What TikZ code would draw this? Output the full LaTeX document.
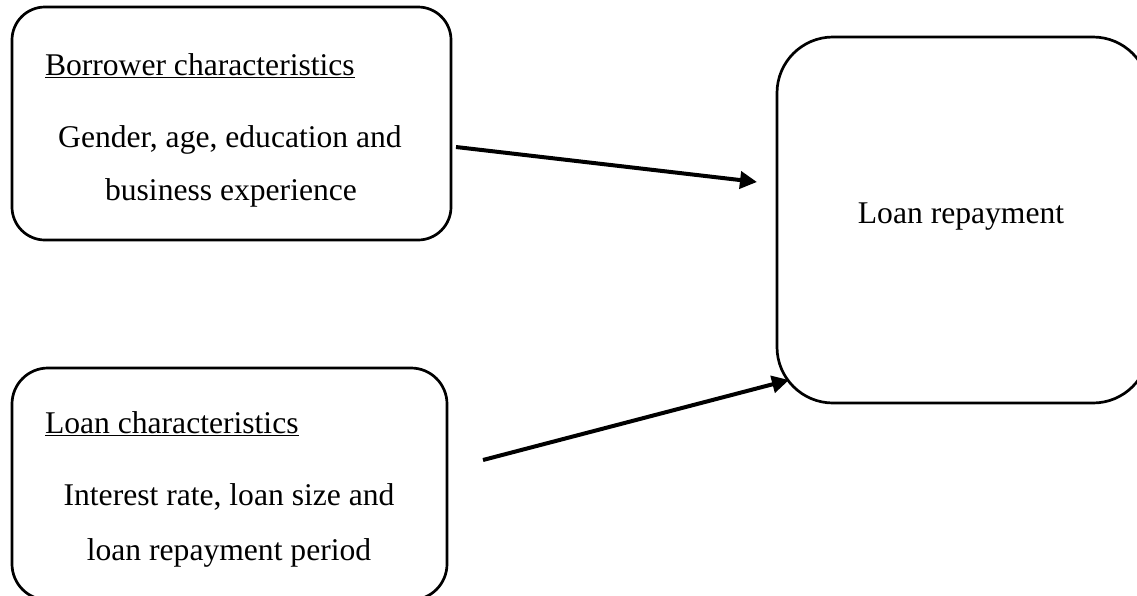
\documentclass[tikz,border=0pt]{standalone}
\usepackage{fontspec}
\setmainfont{Liberation Serif}
\usetikzlibrary{arrows.meta}
\begin{document}
\begin{tikzpicture}[x=1pt,y=-1pt,
  box/.style={draw=black,line width=2.7pt,inner sep=0pt,outer sep=0pt},
  lbl/.style={inner sep=0pt,outer sep=0pt,font=\fontsize{31.6}{38}\selectfont},
  conn/.style={line width=4pt,-{Triangle[length=17pt,width=17pt]}}]
\useasboundingbox (0,0) rectangle (1137,595);
\clip (0,0) rectangle (1137,595);
\fill[white] (0,0) rectangle (1137,595);
\node[box,rounded corners=33pt,minimum width=439pt,minimum height=233pt] (b1) at (231.5,123.5) {};
\node[box,rounded corners=36pt,minimum width=435pt,minimum height=232pt] (b2) at (229.5,484) {};
\node[box,rounded corners=56pt,minimum width=372pt,minimum height=366pt] (b3) at (963,220) {};
\node[lbl,anchor=base west] (t1) at (45,75) {\underline{Borrower characteristics}};
\node[lbl,anchor=base] (t2) at (230,147) {Gender, age, education and};
\node[lbl,anchor=base] (t3) at (231,200) {business experience};
\node[lbl,anchor=base west] (t4) at (45,433) {\underline{Loan characteristics}};
\node[lbl,anchor=base] (t5) at (229,505) {Interest rate, loan size and};
\node[lbl,anchor=base] (t6) at (229,560) {loan repayment period};
\node[lbl,anchor=base] (t7) at (961,223) {Loan repayment};
\coordinate (s1) at (456,147);
\coordinate (e1) at (757,182);
\coordinate (s2) at (483,460);
\coordinate (e2) at (789,380);
\draw[conn] (s1) -- (e1);
\draw[conn] (s2) -- (e2);
\end{tikzpicture}
\end{document}
